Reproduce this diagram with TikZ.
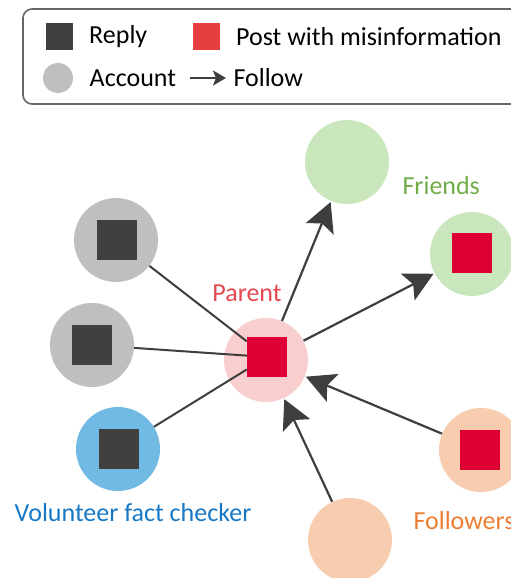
\documentclass[tikz,border=0pt]{standalone}
\usepackage{fontspec}
\setmainfont{Carlito}
\usetikzlibrary{arrows.meta, positioning}
\definecolor{replycolor}{RGB}{64,64,64}
\definecolor{postcolor}{RGB}{222,0,52}
\definecolor{legendpostcolor}{RGB}{228,62,62}
\definecolor{accountcolor}{RGB}{191,191,191}
\definecolor{parentcolor}{RGB}{248,206,206}
\definecolor{parenttextcolor}{RGB}{228,72,80}
\definecolor{friendcolor}{RGB}{201,230,188}
\definecolor{friendtextcolor}{RGB}{112,173,71}
\definecolor{followercolor}{RGB}{248,204,174}
\definecolor{followertextcolor}{RGB}{237,125,49}
\definecolor{checkercolor}{RGB}{112,186,228}
\definecolor{checkertextcolor}{RGB}{22,120,196}
\definecolor{linecolor}{RGB}{62,62,62}

\begin{document}
\begin{tikzpicture}[
	x=1pt, y=-1pt,
	font=\fontsize{26}{30}\selectfont,
	account/.style={circle, minimum size=84pt, inner sep=0pt, fill=#1},
	replybox/.style={rectangle, minimum size=40pt, inner sep=0pt, fill=replycolor},
	postbox/.style={rectangle, minimum size=40pt, inner sep=0pt, fill=postcolor},
	reply/.style={draw=linecolor, line width=2pt},
	follow/.style={draw=linecolor, line width=2.2pt, -{Stealth[length=29pt, width=30pt, inset=6pt]}, shorten >=1pt},
	]
\useasboundingbox (0,0) rectangle (511,578);

% Legend
\draw[rounded corners=9pt, draw=black!60, line width=1.6pt] (23,9) rectangle (540,104);
\node[rectangle, minimum size=27pt, inner sep=0pt, fill=replycolor] (leg-reply) at (59,37) {};
\node[right=13pt of leg-reply] (leg-reply-text) {Reply};
\node[rectangle, minimum size=27pt, inner sep=0pt, fill=legendpostcolor] (leg-post) at (206,37) {};
\node[right=13pt of leg-post] (leg-post-text) {Post with misinformation};
\node[circle, minimum size=30pt, inner sep=0pt, fill=accountcolor] (leg-account) at (58,78) {};
\node[right=13pt of leg-account] (leg-account-text) {Account};
\coordinate (leg-arrow-a) at (190,78);
\coordinate (leg-arrow-b) at (226,78);
\node[anchor=west] (leg-follow-text) at (230,78) {Follow};
\draw[draw=linecolor, line width=2.2pt, -{Stealth[length=13pt, width=15pt, inset=3pt]}] (leg-arrow-a) -- (leg-arrow-b);

% Accounts
\node[account=parentcolor] (parent) at (266,360) {};
\node[postbox] (parent-post) at (267,357) {};
\node[account=friendcolor] (friend-a) at (347,162) {};
\node[account=friendcolor] (friend-b) at (472,254) {};
\node[postbox] (friend-b-post) at (472,253) {};
\node[account=accountcolor] (reply-a) at (116,240) {};
\node[replybox] (reply-a-box) at (117,240) {};
\node[account=accountcolor] (reply-b) at (92,345) {};
\node[replybox] (reply-b-box) at (92,345) {};
\node[account=checkercolor] (checker) at (118,449) {};
\node[replybox] (checker-box) at (119,449) {};
\node[account=followercolor] (follower-a) at (481,450) {};
\node[postbox] (follower-a-post) at (480,450) {};
\node[account=followercolor] (follower-b) at (350,540) {};

% Labels
\node[text=parenttextcolor] (parent-label) at (247,293) {Parent};
\node[text=friendtextcolor, anchor=west] (friend-label) at (399,186) {Friends};
\node[text=followertextcolor, anchor=west] (follower-label) at (410,521) {Followers};
\node[text=checkertextcolor] (checker-label) at (133,513) {Volunteer fact checker};

% Replies
\draw[reply] (reply-a) -- (parent-post);
\draw[reply] (reply-b) -- (parent-post);
\draw[reply] (checker) -- (parent-post);

% Follows
\draw[follow] (parent) -- (friend-a);
\draw[follow] (parent) -- (friend-b);
\draw[follow] (follower-a) -- (parent);
\draw[follow] (follower-b) -- (parent);

\end{tikzpicture}
\end{document}
